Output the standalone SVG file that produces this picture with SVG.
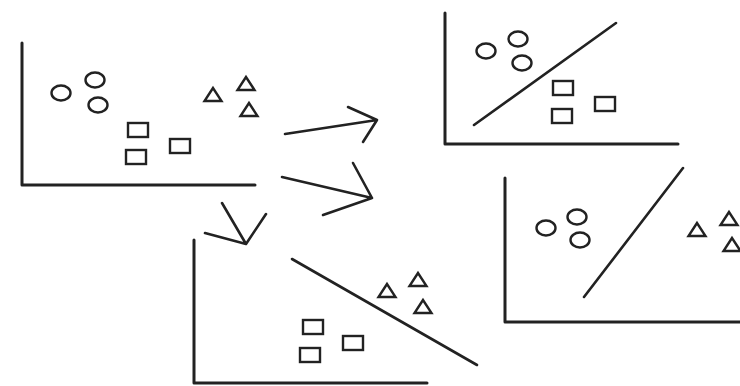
<svg xmlns="http://www.w3.org/2000/svg" xmlns:xlink="http://www.w3.org/1999/xlink" width="740" height="386" viewBox="0 0 740 386">
<style>
.ax{stroke:#222;stroke-width:3;fill:none;stroke-linecap:round;stroke-linejoin:round}
.ln{stroke:#222;stroke-width:2.6;fill:none;stroke-linecap:round;stroke-linejoin:round}
.sh{stroke:#222;stroke-width:2.4;fill:none}
</style>
<defs>
<ellipse id="c" cx="0" cy="0" rx="9.5" ry="7.5" class="sh"/>
<rect id="s" x="-10" y="-7" width="20" height="14" class="sh"/>
<polygon id="t" points="0,-7 -8.5,6 8.5,6" class="sh" stroke-linejoin="miter"/>
</defs>
<rect width="740" height="386" fill="#fff"/>
<g id="panel-original">
<path class="ax" d="M22,43 L22,185 L255,185"/>
<use xlink:href="#c" x="61" y="93"/><use xlink:href="#c" x="95" y="80"/><use xlink:href="#c" x="98" y="105"/>
<use xlink:href="#s" x="138" y="130"/><use xlink:href="#s" x="136" y="157"/><use xlink:href="#s" x="180" y="146"/>
<use xlink:href="#t" x="213" y="95"/><use xlink:href="#t" x="246" y="84"/><use xlink:href="#t" x="249" y="110"/>
</g>
<g id="panel-circles-squares">
<path class="ax" d="M445,13 L445,144 L678,144"/>
<line class="ln" x1="474" y1="125" x2="616" y2="23"/>
<use xlink:href="#c" x="486" y="51"/><use xlink:href="#c" x="518" y="39"/><use xlink:href="#c" x="522" y="63"/>
<use xlink:href="#s" x="563" y="88"/><use xlink:href="#s" x="562" y="116"/><use xlink:href="#s" x="605" y="104"/>
</g>
<g id="panel-circles-triangles">
<path class="ax" d="M505,178 L505,322 L742,322"/>
<line class="ln" x1="584" y1="297" x2="683" y2="168"/>
<use xlink:href="#c" x="546" y="228"/><use xlink:href="#c" x="577" y="217"/><use xlink:href="#c" x="580" y="240"/>
<use xlink:href="#t" x="697" y="230"/><use xlink:href="#t" x="729" y="219"/><use xlink:href="#t" x="732" y="245"/>
</g>
<g id="panel-squares-triangles">
<path class="ax" d="M194,240 L194,383 L427,383"/>
<line class="ln" x1="292" y1="259" x2="477" y2="365"/>
<use xlink:href="#s" x="313" y="327"/><use xlink:href="#s" x="310" y="355"/><use xlink:href="#s" x="353" y="343"/>
<use xlink:href="#t" x="387" y="291"/><use xlink:href="#t" x="418" y="280"/><use xlink:href="#t" x="423" y="307"/>
</g>
<g id="connectors">
<path class="ln" d="M285,134 L377,120 M348,107 L377,120 L363,142"/>
<path class="ln" d="M282,177 L372,198 M353,163 L372,198 L323,215"/>
<path class="ln" d="M222,203 L246,244 M205,233 L246,244 L266,214"/>
</g>
</svg>
